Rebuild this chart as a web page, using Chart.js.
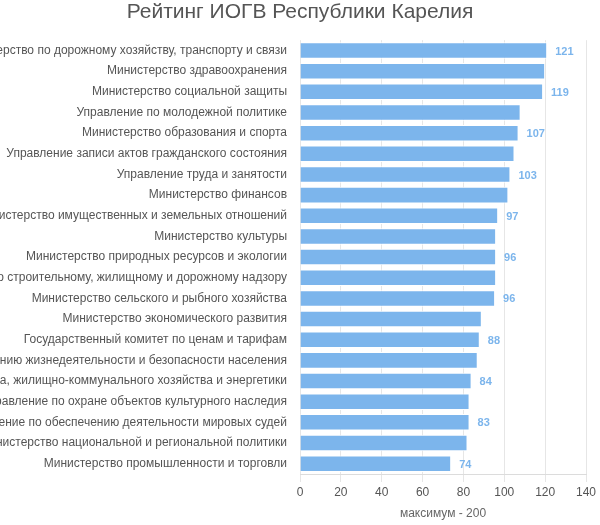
<html>
<head>
<script src="https://cdn.jsdelivr.net/npm/chart.js@4"></script>
<style>
  body { margin: 0; background: #fff; }
  #wrap { width: 600px; height: 525px; }
</style>
</head>
<body>
<div id="wrap"><canvas id="myChart"></canvas></div>
<script>
// organisations, top to bottom
var categories = [
  "Министерство по дорожному хозяйству, транспорту и связи",
  "Министерство здравоохранения",
  "Министерство социальной защиты",
  "Управление по молодежной политике",
  "Министерство образования и спорта",
  "Управление записи актов гражданского состояния",
  "Управление труда и занятости",
  "Министерство финансов",
  "Министерство имущественных и земельных отношений",
  "Министерство культуры",
  "Министерство природных ресурсов и экологии",
  "Комитет по строительному, жилищному и дорожному надзору",
  "Министерство сельского и рыбного хозяйства",
  "Министерство экономического развития",
  "Государственный комитет по ценам и тарифам",
  "Государственный комитет по обеспечению жизнедеятельности и безопасности населения",
  "Министерство строительства, жилищно-коммунального хозяйства и энергетики",
  "Управление по охране объектов культурного наследия",
  "Управление по обеспечению деятельности мировых судей",
  "Министерство национальной и региональной политики",
  "Министерство промышленности и торговли"
];
var scores = [121, 120, 119, 108, 107, 105, 103, 102, 97, 96, 96, 96, 95.5, 89, 88, 87, 84, 83, 83, 82, 74];
var xTicks = [0, 20, 40, 60, 80, 100, 120, 140];

var FONT = "'Liberation Sans', Arial, sans-serif";
var BAR = '#7cb5ec';

// value labels on every other bar, like the original
var valueLabels = {
  id: 'valueLabels',
  afterDatasetsDraw: function(chart) {
    var ctx = chart.ctx;
    var meta = chart.getDatasetMeta(0);
    ctx.save();
    ctx.font = 'bold 11px ' + FONT;
    ctx.fillStyle = BAR;
    ctx.textAlign = 'left';
    ctx.textBaseline = 'middle';
    meta.data.forEach(function(bar, i) {
      if (i % 2 !== 0) return;
      ctx.fillText(Math.round(scores[i]), bar.x + 8, bar.y + 1);
    });
    ctx.restore();
  }
};

var ctx = document.getElementById('myChart').getContext('2d');
var chart = new Chart(ctx, {
  type: 'bar',
  data: {
    labels: categories,
    datasets: [{
      data: scores,
      backgroundColor: BAR,
      borderColor: '#ffffff',
      borderWidth: 1,
      barPercentage: 0.8,
      categoryPercentage: 1
    }]
  },
  options: {
    indexAxis: 'y',
    responsive: true,
    maintainAspectRatio: false,
    animation: false,
    layout: { padding: 0 },
    plugins: {
      legend: { display: false },
      tooltip: { enabled: false },
      title: {
        display: true,
        text: 'Рейтинг ИОГВ Республики Карелия',
        color: '#555555',
        font: { family: FONT, size: 21, weight: 'normal' },
        padding: { top: 0, bottom: 15 }
      }
    },
    scales: {
      x: {
        min: 0,
        max: 140,
        afterBuildTicks: function(scale) {
          scale.ticks = xTicks.map(function(v) { return { value: v }; });
        },
        afterFit: function(scale) { scale.height = 51; },
        grid: { color: '#e6e6e6', tickLength: 8 },
        border: { color: '#dcdcdc' },
        ticks: {
          color: '#555555',
          padding: 3,
          font: { family: FONT, size: 12 }
        },
        title: {
          display: true,
          text: 'максимум - 200',
          color: '#666666',
          font: { family: FONT, size: 12 },
          padding: { top: 4, bottom: 4 }
        }
      },
      y: {
        afterFit: function(scale) { scale.width = 300; },
        grid: { display: false, drawTicks: false },
        border: { display: false },
        ticks: {
          color: '#555555',
          padding: 13,
          autoSkip: false,
          font: { family: FONT, size: 12 }
        }
      },
      // empty strip on the right so the plot stops at 140 before the edge
      yRight: {
        type: 'linear',
        position: 'right',
        afterFit: function(scale) { scale.width = 14; },
        grid: { display: false, drawTicks: false },
        border: { display: false },
        ticks: { display: false }
      }
    }
  },
  plugins: [valueLabels]
});
</script>
</body>
</html>
